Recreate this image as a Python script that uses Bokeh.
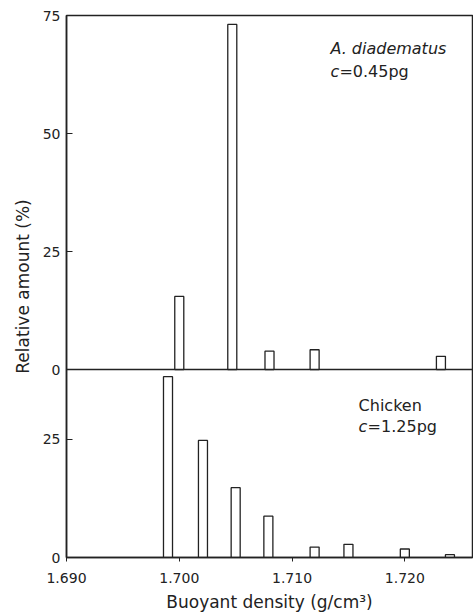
from bokeh.plotting import figure
from bokeh.models import Range1d, FixedTicker, Span, Label, NumeralTickFormatter
from bokeh.embed import file_html
from bokeh.resources import INLINE

# ---- data ----
# Upper panel: A. diadematus (c = 0.45 pg)
adia_density = [1.7000, 1.7047, 1.7080, 1.7120, 1.7232]
adia_amount = [15.5, 73.1, 3.9, 4.2, 2.8]
# Lower panel: Chicken (c = 1.25 pg)
chick_density = [1.6990, 1.7021, 1.7050, 1.7079, 1.7120, 1.7150, 1.7200, 1.7240]
chick_amount = [38.3, 24.8, 14.8, 8.75, 2.2, 2.8, 1.8, 0.6]

x_ticks = [1.690, 1.700, 1.710, 1.720]
top_y_ticks = [0, 25, 50, 75]
bottom_y_ticks = [0, 25]

TOP_MAX = 75.0      # upper panel range 0..75
BOTTOM_MAX = 39.8   # lower panel range 0..39.8
BAR_W = 0.0008
FONT = "DejaVu Sans"
INK = "#222222"

p = figure(width=473, height=616, output_backend="svg", toolbar_location=None,
           x_range=Range1d(1.690, 1.726),
           y_range=Range1d(-BOTTOM_MAX, TOP_MAX),
           min_border_left=66, min_border_right=1,
           min_border_top=15, min_border_bottom=59)
p.extra_y_ranges = {"chicken": Range1d(0, BOTTOM_MAX + TOP_MAX)}
p.grid.visible = False
p.background_fill_color = "white"
p.border_fill_color = "white"
p.outline_line_color = INK
p.outline_line_width = 1.5

# bars
p.vbar(x=adia_density, top=adia_amount, bottom=0, width=BAR_W,
       fill_color="white", line_color=INK, line_width=1.3)
p.vbar(x=chick_density, top=chick_amount, bottom=0, width=BAR_W,
       y_range_name="chicken",
       fill_color="white", line_color=INK, line_width=1.3)

# panel separator (zero line of the upper panel)
p.add_layout(Span(location=0, dimension="width", line_color=INK, line_width=1.5))

# x axis
xa = p.xaxis[0]
xa.ticker = FixedTicker(ticks=x_ticks)
xa.formatter = NumeralTickFormatter(format="0.000")
xa.major_tick_in = 0
xa.major_tick_out = 4
xa.minor_tick_line_color = None
xa.axis_line_width = 1.5
xa.axis_line_color = INK
xa.major_tick_line_color = INK
xa.major_label_standoff = 11
xa.major_label_text_font = FONT
xa.major_label_text_font_size = "14px"
xa.major_label_text_color = INK
xa.axis_label = "Buoyant density (g/cm³)"
xa.axis_label_text_font = FONT
xa.axis_label_text_font_size = "17px"
xa.axis_label_text_font_style = "normal"
xa.axis_label_text_color = INK
xa.axis_label_standoff = 6

# y axis: upper panel ticks on its own scale, lower panel ticks shifted by its span
ya = p.yaxis[0]
bottom_tick_pos = [round(t - BOTTOM_MAX, 6) for t in bottom_y_ticks]
ya.ticker = FixedTicker(ticks=bottom_tick_pos + top_y_ticks)
ya.major_label_overrides = {pos: str(t) for pos, t in zip(bottom_tick_pos, bottom_y_ticks)}
ya.major_tick_in = 6
ya.major_tick_out = 0
ya.minor_tick_line_color = None
ya.axis_line_width = 1.5
ya.axis_line_color = INK
ya.major_tick_line_color = INK
ya.major_label_standoff = 6
ya.major_label_text_font = FONT
ya.major_label_text_font_size = "14px"
ya.major_label_text_color = INK
ya.axis_label = "Relative amount (%)"
ya.axis_label_text_font = FONT
ya.axis_label_text_font_size = "17px"
ya.axis_label_text_font_style = "normal"
ya.axis_label_text_color = INK
ya.axis_label_standoff = 7

# annotations
def lab(x, y, text, style="normal", x_offset=0, rng="default"):
    p.add_layout(Label(x=x, y=y, text=text, x_offset=x_offset, y_range_name=rng,
                       text_font=FONT, text_font_size="16px", text_font_style=style,
                       text_color=INK, text_baseline="alphabetic", text_align="left"))

lab(1.7134, 68.0, "A. diadematus", "italic")
lab(1.7134, 63.2, "c", "italic")
lab(1.7134, 63.2, "=0.45pg", x_offset=9)
lab(1.7159, -7.6, "Chicken")
lab(1.7159, -12.1, "c", "italic")
lab(1.7159, -12.1, "=1.25pg", x_offset=9)

open("out.html", "w").write(file_html(p, INLINE))
